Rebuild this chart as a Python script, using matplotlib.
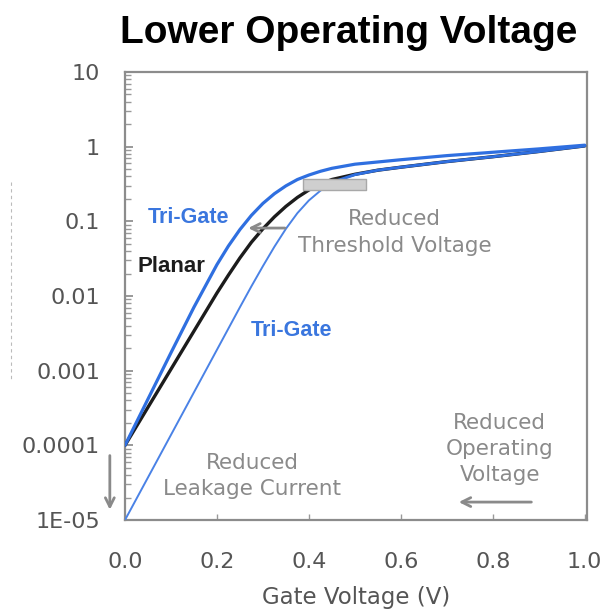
import numpy as np
import matplotlib
matplotlib.use("Agg")
import matplotlib.pyplot as plt
from matplotlib.lines import Line2D

# ---- data (log10 of drain current) ----
vg = [0.0, 0.05, 0.1, 0.15, 0.2, 0.225, 0.25, 0.275, 0.3, 0.325, 0.35, 0.375, 0.4,
      0.425, 0.45, 0.5, 0.55, 0.6, 0.7, 0.8, 0.9, 1.0]
trigate_fast_log = [-4.0, -3.38, -2.76, -2.15, -1.58, -1.33, -1.11, -0.92, -0.76, -0.63, -0.525, -0.44, -0.38,
                    -0.33, -0.29, -0.235, -0.205, -0.175, -0.12, -0.075, -0.03, 0.02]
planar_log = [-4.0, -3.49, -2.98, -2.47, -1.96, -1.72, -1.49, -1.28, -1.1, -0.94, -0.8, -0.68, -0.58,
              -0.5, -0.44, -0.37, -0.315, -0.275, -0.2, -0.135, -0.065, 0.01]
trigate_low_log = [-5.0, -4.43, -3.86, -3.29, -2.72, -2.435, -2.15, -1.87, -1.6, -1.34, -1.1, -0.89, -0.72,
                   -0.59, -0.48, -0.375, -0.315, -0.275, -0.2, -0.135, -0.065, 0.01]
ytick_vals = [1e-5, 1e-4, 1e-3, 1e-2, 1e-1, 1, 10]
ytick_labels = ["1E-05", "0.0001", "0.001", "0.01", "0.1", "1", "10"]
xtick_vals = [0.0, 0.2, 0.4, 0.6, 0.8, 1.0]
xtick_labels = ["0.0", "0.2", "0.4", "0.6", "0.8", "1.0"]

plt.rcParams['font.family'] = ['DejaVu Sans']

fig = plt.figure(figsize=(6.06, 6.13), dpi=100)
ax = fig.add_axes([125/606, 1-520/613, 462/606, 448/613])

blue = "#2f6fe0"
blue_thin = "#4a82e6"
blue_txt = "#3a76de"
gray_txt = "#8a8a8a"

x = np.array(vg)
lkw = dict(solid_joinstyle='round', solid_capstyle='round')
ax.plot(x, 10**np.array(trigate_low_log), color=blue_thin, lw=1.4, zorder=3, **lkw)
ax.plot(x, 10**np.array(planar_log), color="#1c1c1c", lw=2.4, zorder=4, **lkw)
ax.plot(x, 10**np.array(trigate_fast_log), color=blue, lw=2.3, zorder=5, **lkw)
# merged lower segment appears as a thick blue line
ax.plot(x[14:], 10**np.array(trigate_low_log[14:]), color=blue, lw=2.1, zorder=4.5, **lkw)

ax.set_yscale('log')
ax.set_xlim(0, 1.005)
ax.set_ylim(1e-5, 10)
ax.set_yticks(ytick_vals)
ax.set_yticklabels(ytick_labels)
ax.set_xticks(xtick_vals)
ax.set_xticklabels(xtick_labels)
ax.tick_params(axis='y', which='major', direction='in', length=6, width=1.2, color='#888888',
               labelsize=16, labelcolor='#555555', pad=18)
ax.tick_params(axis='y', which='minor', direction='in', length=4, width=1, color='#999999')
ax.tick_params(axis='x', which='major', direction='in', length=4, width=1, color='#999999',
               labelsize=16, labelcolor='#555555', pad=23)
for s in ax.spines.values():
    s.set_color('#8c8c8c')
    s.set_linewidth(1.6)

ax.set_xlabel("Gate Voltage (V)", fontsize=16.5, color='#555555', labelpad=10)

fig.text(349/606, 1-43/613, "Lower Operating Voltage", ha='center', va='baseline',
         fontsize=28, fontweight='bold', color='black', family=['Liberation Sans', 'DejaVu Sans'])

# gray threshold box
ax.fill_between([0.387, 0.525], [10**-0.58]*2, [10**-0.43]*2, color='#cfcfcf', ec='#a8a8a8', lw=1, zorder=6)

# labels
bold_fam = ['Liberation Sans', 'DejaVu Sans']
ax.text(0.05, 10**-0.95, "Tri-Gate", color=blue_txt, fontsize=15.5, fontweight='bold', ha='left', va='center',
        zorder=2, family=bold_fam)
ax.text(0.028, 10**-1.61, "Planar", color='#1c1c1c', fontsize=16, fontweight='bold', ha='left', va='center',
        zorder=2, family=bold_fam)
ax.text(0.363, 10**-2.46, "Tri-Gate", color=blue_txt, fontsize=15.5, fontweight='bold', ha='center', va='center',
        zorder=2, family=bold_fam)

ax.text(0.586, 10**-1.15, "Reduced\nThreshold Voltage", color=gray_txt, fontsize=15.5, ha='center', va='center',
        linespacing=1.4)
ax.text(0.276, 10**-4.41, "Reduced\nLeakage Current", color=gray_txt, fontsize=15.5, ha='center', va='center',
        linespacing=1.4)
ax.text(0.815, 10**-4.05, "Reduced\nOperating\nVoltage", color=gray_txt, fontsize=15.5, ha='center', va='center',
        linespacing=1.4)

arrow_kw = dict(arrowstyle='->', color='#8a8a8a', lw=2.0, mutation_scale=16)
ax.annotate("", xy=(0.262, 10**-1.09), xytext=(0.354, 10**-1.09), arrowprops=arrow_kw, zorder=7)
ax.annotate("", xy=(0.72, 10**-4.76), xytext=(0.89, 10**-4.76), arrowprops=arrow_kw)
ax.annotate("", xy=(-0.033, 10**-4.9), xytext=(-0.033, 10**-4.1), arrowprops=arrow_kw,
            annotation_clip=False)

# faint dashed line at left edge
fig.add_artist(Line2D([11/606, 11/606], [1-182/613, 1-380/613], color='#bbbbbb', lw=0.8, ls=(0, (3, 3))))

fig.savefig("out.png", dpi=100)
